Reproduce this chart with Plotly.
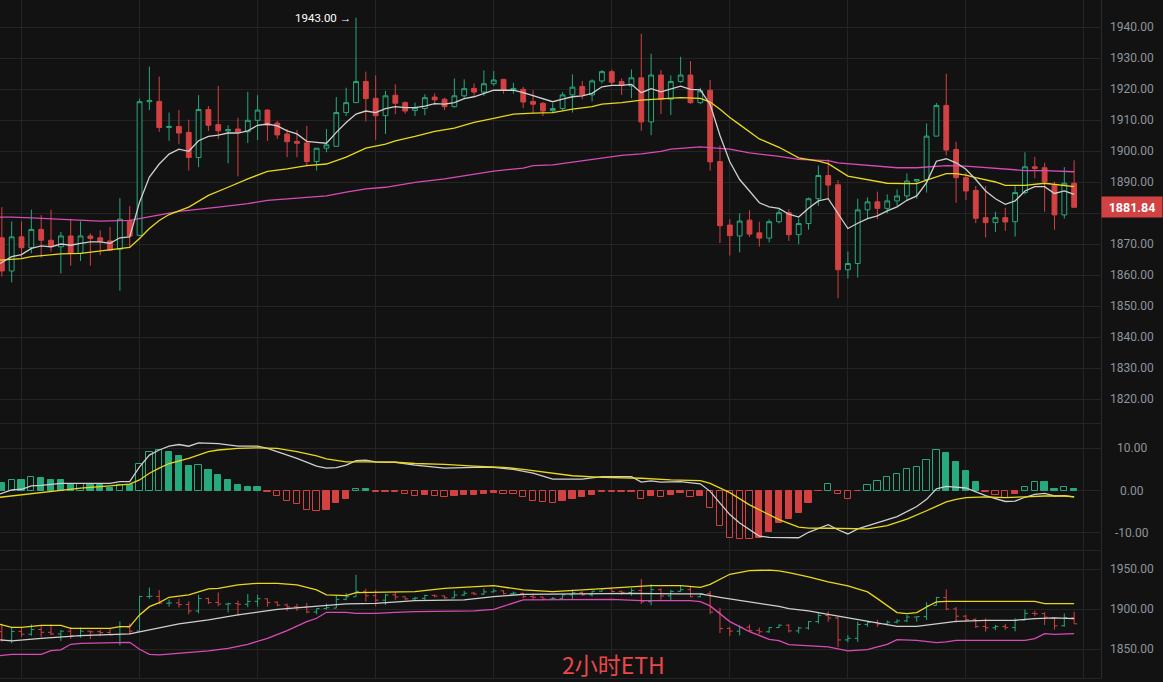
import plotly.graph_objects as go

# ---------------- data ----------------
opens = [1872.0,1861.3,1872.3,1868.8,1874.7,1871.2,1869.1,1872.6,1867.0,1872.6,
         1872.0,1871.0,1868.3,1877.6,1872.8,1915.9,1916.0,1907.6,1907.9,1906.0,
         1897.9,1913.4,1908.5,1906.5,1907.1,1906.2,1909.9,1913.2,1909.0,1905.5,
         1903.1,1902.6,1896.6,1900.9,1901.5,1912.4,1915.6,1922.4,1917.0,1911.4,
         1918.0,1915.6,1913.1,1913.7,1917.4,1916.7,1914.3,1917.8,1920.2,1919.0,
         1921.7,1923.1,1919.6,1919.9,1916.0,1915.4,1913.0,1913.7,1918.1,1920.8,
         1918.1,1922.6,1925.6,1922.4,1921.0,1923.6,1909.4,1924.5,1916.7,1922.4,
         1924.5,1915.6,1919.6,1896.6,1876.1,1872.6,1877.7,1873.6,1871.9,1877.2,
         1880.1,1873.0,1876.6,1884.6,1892.1,1889.1,1861.7,1863.7,1881.0,1883.6,
         1881.5,1883.9,1885.5,1890.3,1890.8,1904.8,1914.7,1900.5,1891.4,1887.3,
         1878.5,1876.9,1878.5,1877.2,1886.6,1894.9,1894.6,1888.9,1879.4,1889.6]
highs = [1881.9,1877.3,1877.3,1881.1,1879.3,1881.1,1873.9,1877.9,1877.3,1873.4,
         1874.4,1875.5,1884.8,1882.2,1916.9,1927.2,1924.0,1912.4,1913.2,1910.1,
         1918.0,1914.5,1921.0,1908.3,1910.7,1919.1,1918.0,1913.5,1909.7,1907.1,
         1906.8,1908.1,1900.9,1907.1,1917.4,1920.4,1943.0,1925.6,1924.4,1919.4,
         1921.5,1916.0,1915.6,1918.3,1918.6,1917.2,1923.4,1923.1,1921.8,1926.0,
         1925.8,1923.3,1922.0,1920.7,1919.6,1915.8,1915.4,1919.0,1924.7,1922.6,
         1923.1,1926.1,1926.3,1923.4,1926.3,1937.8,1931.4,1926.1,1924.4,1930.4,
         1929.0,1920.4,1922.9,1901.8,1878.0,1879.9,1880.9,1877.2,1878.0,1881.2,
         1881.2,1878.2,1885.0,1895.3,1897.3,1890.6,1867.6,1884.6,1885.0,1886.9,
         1886.0,1887.6,1892.8,1890.8,1908.9,1915.5,1924.9,1903.0,1893.0,1888.7,
         1888.7,1880.4,1881.7,1888.7,1899.6,1898.1,1896.2,1890.1,1894.8,1897.0]
lows = [1859.5,1857.6,1865.3,1867.0,1865.6,1867.5,1860.5,1863.0,1864.5,1863.0,
        1866.4,1867.8,1854.9,1868.8,1872.6,1913.2,1906.2,1903.3,1902.2,1893.7,
        1894.8,1906.5,1903.9,1896.0,1891.8,1902.6,1903.5,1903.3,1903.9,1898.0,
        1898.0,1895.0,1893.7,1899.6,1901.5,1911.3,1915.6,1909.5,1903.6,1905.5,
        1911.9,1912.0,1911.3,1911.5,1914.8,1913.2,1914.0,1916.7,1917.8,1917.8,
        1921.0,1918.5,1918.5,1913.8,1912.1,1911.3,1912.2,1912.9,1912.4,1916.7,
        1916.0,1921.8,1921.0,1918.1,1917.0,1906.5,1905.1,1911.9,1911.6,1922.0,
        1915.1,1915.1,1893.7,1870.3,1866.3,1867.3,1872.3,1869.2,1870.5,1876.6,
        1871.0,1869.9,1874.6,1882.3,1884.4,1852.5,1858.9,1859.2,1878.2,1878.0,
        1879.9,1882.3,1883.9,1884.6,1886.6,1904.8,1898.6,1883.3,1884.2,1876.7,
        1872.1,1873.9,1874.2,1872.4,1886.0,1891.2,1880.4,1874.6,1878.2,1881.84]
closes = [1861.3,1872.3,1868.8,1874.7,1871.2,1869.1,1872.6,1867.0,1872.6,1871.8,
          1870.9,1868.0,1878.0,1872.6,1915.9,1916.3,1907.6,1907.9,1905.8,1897.9,
          1913.4,1908.3,1906.5,1906.9,1906.2,1909.9,1913.2,1908.3,1905.2,1903.0,
          1902.5,1896.6,1900.9,1902.0,1912.4,1915.6,1922.4,1916.9,1911.4,1917.8,
          1915.4,1912.9,1914.0,1917.2,1916.5,1914.3,1917.8,1920.1,1919.0,1921.7,
          1922.9,1919.6,1920.2,1915.8,1915.1,1912.9,1913.7,1918.1,1920.6,1918.1,
          1922.6,1925.6,1922.2,1921.2,1923.6,1909.4,1924.5,1916.7,1922.4,1924.5,
          1915.6,1919.4,1896.5,1875.9,1872.7,1877.4,1873.2,1871.9,1877.2,1880.1,
          1873.0,1876.6,1884.6,1892.1,1889.0,1861.7,1863.7,1881.0,1883.6,1881.5,
          1883.9,1885.5,1890.3,1890.8,1904.8,1914.7,1900.3,1891.4,1887.1,1878.3,
          1876.9,1878.5,1877.1,1886.6,1894.9,1894.4,1890.1,1879.4,1889.6,1881.84]

# main-panel moving averages (bar index, value)
ma_white_x = [-0.19,1,2,3,4,5,6,7,8,9,10,11,12,13,14,15,16,17,18,19,20,21,22,23,24,25,26,27,28,29,
              30,31,32,33,34,35,36,37,38,39,40,41,42,43,44,45,46,47,48,49,50,51,52,53,54,55,56,57,58,59,
              60,61,62,63,64,65,66,67,68,69,70,71,72,73,74,75,76,77,78,79,80,81,82,83,84,85,86,87,88,89,
              90,91,92,93,94,95,96,97,98,99,100,101,102,103,104,105,106,107,108,109]
ma_white_y = [1863.7,1865.9,1866.6,1868.6,1869.4,1869.1,1870.0,1869.6,1870.2,1870.7,1870.7,1870.2,1872.0,1872.3,
              1883.5,1891.6,1895.8,1899.0,1900.6,1899.9,1903.3,1904.7,1905.1,1905.8,1905.8,1906.5,1908.3,1908.7,
              1908.1,1906.5,1905.5,1903.1,1902.8,1902.5,1906.0,1909.2,1911.9,1912.9,1912.4,1913.7,1914.3,1914.0,
              1914.0,1914.5,1915.3,1915.1,1915.6,1916.9,1917.5,1918.6,1919.6,1919.6,1919.6,1918.8,1917.8,1916.7,
              1915.9,1916.7,1917.5,1917.8,1918.6,1920.7,1921.2,1921.2,1921.5,1918.8,1920.1,1919.1,1919.9,1920.9,
              1919.9,1919.7,1915.0,1905.0,1896.5,1890.8,1887.1,1883.3,1882.0,1881.5,1879.6,1878.7,1881.5,1883.9,
              1884.6,1879.6,1875.0,1876.7,1878.2,1879.1,1880.7,1882.0,1884.1,1885.5,1889.8,1896.7,1897.5,1896.2,
              1894.1,1890.8,1887.1,1884.6,1882.8,1883.9,1887.1,1888.5,1888.5,1886.3,1887.1,1886.0]
ma_yellow_x = [-0.19,2,3,4,6,8,11,13,14,15,16,17,19,21,23,25,27,29,31,33,35,37,39,40,42,44,46,48,50,52,
               54,56,58,60,61,63,65,67,69,71,72,73,74,75,77,79,81,83,84,86,88,90,92,93,94,96,97,98,99,101,
               102,104,106,107,108,109]
ma_yellow_y = [1864.8,1865.3,1865.9,1866.2,1866.8,1867.0,1868.0,1868.9,1871.8,1875.0,1877.6,1879.5,1881.9,1885.7,
               1888.3,1891.0,1893.4,1894.2,1895.3,1895.8,1898.0,1900.9,1902.2,1903.3,1904.7,1906.3,1907.4,1909.2,
               1910.5,1911.9,1912.2,1912.4,1913.5,1914.3,1915.1,1915.6,1916.4,1916.7,1917.2,1917.0,1915.8,1913.5,
               1910.8,1908.5,1903.9,1901.2,1897.8,1896.7,1895.9,1891.9,1890.8,1889.6,1889.5,1889.5,1890.6,1892.7,
               1892.7,1892.2,1891.4,1890.0,1888.9,1888.9,1889.6,1889.2,1888.7,1888.5]
ma_pink_x = [-0.19,1,3,7,10,13,14,16,18,22,25,27,31,33,35,37,39,42,45,48,50,53,54,56,58,60,61,63,65,67,
             68,71,72,74,76,79,81,84,85,88,91,93,96,98,100,102,104,106,109]
ma_pink_y = [1878.7,1878.7,1878.4,1877.9,1877.4,1877.6,1878.2,1879.3,1880.5,1881.9,1883.0,1884.1,1885.1,1885.5,
             1886.7,1887.8,1888.3,1889.9,1891.0,1892.6,1893.5,1894.5,1895.3,1895.5,1896.4,1897.2,1897.8,1898.6,
             1899.1,1899.9,1900.6,1901.3,1901.1,1900.6,1899.4,1898.3,1897.3,1896.9,1896.2,1895.3,1894.6,1894.6,
             1895.3,1895.1,1894.6,1894.1,1893.7,1893.7,1893.3]

# MACD
macd_hist = [1.88,2.5,2.45,3.1,2.9,2.5,2.45,1.5,1.6,1.55,1.3,0.7,1.3,1.2,6.4,9.2,9.6,9.1,8.2,5.8,
             6.0,4.9,3.7,2.5,1.3,0.9,0.85,-0.25,-1.4,-2.6,-3.2,-4.7,-4.75,-4.7,-3.0,-2.0,0.3,0.28,-0.3,-0.25,
             -0.25,-0.8,-1.4,-1.15,-1.2,-1.6,-1.4,-1.0,-0.95,-0.8,-0.5,-0.8,-0.85,-1.6,-2.4,-2.8,-3.0,-2.6,-2.0,-1.6,
             -1.0,-0.25,-0.25,-0.45,-0.25,-2.0,-1.2,-1.6,-1.0,-0.5,-1.45,-1.3,-4.2,-8.3,-11.2,-11.4,-11.6,-11.2,-9.8,-7.7,
             -6.7,-5.4,-2.9,-0.2,1.5,-0.9,-1.9,-0.2,1.3,2.3,3.2,3.9,5.1,5.5,7.3,9.7,8.8,6.7,4.7,2.0,
             -0.25,-1.0,-1.8,-0.8,0.9,2.1,1.9,0.4,0.9,0.4]
dif_x = [-0.19,1,2,3,4,6,8,11,12,13,14,15,16,17,18,19,20,22,24,26,27,28,30,32,33,34,35,36,37,38,
         40,42,45,48,50,52,54,56,59,61,64,65,66,67,69,71,72,73,74,75,76,77,78,79,80,81,82,84,85,86,
         87,89,91,93,94,95,96,98,100,102,103,104,105,106,107,108,109]
dif_y = [-0.8,0.15,0.3,1.1,1.2,1.7,1.7,1.7,2.1,2.1,5.6,8.4,9.6,10.5,10.9,10.5,11.3,11.1,10.5,10.5,
         10.0,9.2,7.6,5.8,5.3,5.4,6.0,7.1,7.2,6.8,6.7,6.0,5.3,5.5,5.5,5.0,4.1,2.7,2.7,3.3,
         3.3,2.0,2.3,2.0,2.1,1.6,-0.2,-3.0,-5.7,-7.7,-9.3,-10.8,-11.1,-11.1,-11.2,-11.2,-9.9,-8.1,-9.3,-10.3,
         -9.1,-7.7,-6.2,-3.8,-2.1,0.4,1.0,0.6,-1.2,-2.6,-2.5,-1.6,-0.9,-0.7,-1.3,-1.2,-1.5]
dea_x = [-0.19,2,4,6,8,11,13,14,15,16,17,19,21,22,24,26,28,30,32,33,35,37,40,42,45,48,51,53,56,58,
         61,65,68,71,72,74,76,78,79,81,82,84,86,88,90,92,94,96,97,98,100,102,104,106,108,109]
dea_y = [-1.6,-1.0,-0.4,0.15,0.55,1.1,1.5,2.5,4.1,5.3,6.4,7.6,9.2,9.6,10.0,10.1,10.0,9.2,8.2,7.5,
         6.8,6.8,6.7,6.4,6.2,5.8,5.5,5.0,4.2,3.5,3.1,2.9,2.5,2.35,1.7,-0.5,-3.4,-5.7,-6.9,-8.7,
         -8.9,-8.95,-9.1,-9.1,-8.3,-6.8,-4.8,-2.7,-2.1,-1.7,-1.5,-1.7,-1.5,-1.3,-1.3,-1.5]

# Bollinger bands
boll_up_x = [-0.19,1,2,4,6,7,9,11,12,13,14,15,16,17,19,20,21,22,24,26,28,30,32,33,35,36,38,40,42,45,
             49,50,53,56,59,64,66,69,71,72,74,76,77,78,79,80,82,84,86,88,89,91,92,93,94,95,96,100,105,106,109]
boll_up_y = [1881.25,1877.5,1877.5,1880.0,1880.0,1876.25,1876.25,1876.25,1878.3,1878.3,1893.0,1903.3,1908.3,
             1915.0,1918.0,1922.0,1925.4,1926.25,1930.4,1932.5,1932.5,1930.4,1924.2,1918.0,1917.0,1920.8,
             1921.25,1922.0,1922.0,1926.25,1929.2,1929.6,1924.2,1922.0,1924.2,1927.5,1929.6,1929.6,1927.5,
             1931.25,1943.75,1948.3,1949.0,1949.0,1948.0,1945.8,1940.4,1934.2,1929.2,1921.7,1913.3,1895.8,
             1894.6,1895.8,1902.9,1909.2,1910.0,1910.0,1910.0,1907.1,1907.1]
boll_mid_x = [-0.19,1,4,8,13,15,18,21,24,28,32,35,38,40,42,47,50,53,59,62,64,69,71,73,76,78,79,80,82,84,
              86,88,91,93,95,97,100,103,105,107,109]
boll_mid_y = [1861.7,1860.4,1863.75,1867.0,1869.2,1874.2,1881.7,1886.7,1893.0,1900.0,1903.3,1906.7,1907.5,
              1908.75,1910.8,1911.7,1915.8,1918.75,1919.2,1920.0,1920.0,1919.2,1919.2,1915.0,1909.6,1906.0,
              1903.5,1900.8,1897.9,1893.75,1889.6,1885.0,1878.75,1878.75,1882.1,1885.0,1886.25,1886.25,
              1888.3,1889.2,1888.3]
boll_low_x = [-0.19,1,4,5,6,7,8,13,14,15,16,18,21,23,25,27,29,31,32,33,35,36,38,40,42,48,50,53,56,62,
              65,70,71,72,74,76,78,79,80,84,86,88,89,90,91,93,95,96,97,100,104,105,106,107,109]
boll_low_y = [1842.1,1843.75,1843.75,1848.3,1849.2,1856.25,1857.5,1858.75,1850.0,1843.75,1842.9,1845.0,
              1847.9,1851.25,1856.25,1863.75,1873.3,1884.6,1888.75,1896.25,1896.25,1895.0,1895.0,1896.25,
              1897.1,1897.9,1900.0,1911.7,1911.7,1912.5,1910.8,1910.8,1909.6,1904.2,1884.6,1872.1,1862.5,
              1860.8,1855.8,1852.9,1847.9,1849.6,1852.9,1856.25,1862.1,1861.25,1858.3,1859.2,1861.25,
              1861.25,1861.25,1863.3,1869.6,1868.75,1869.6]

main_ticks = [1820, 1830, 1840, 1850, 1860, 1870, 1880, 1890, 1900, 1910, 1920, 1930, 1940]
macd_ticks = [-10, 0, 10]
boll_ticks = [1850, 1900, 1950]
high_label = "1943.00 →"
high_index = 36
last_price = closes[-1]
title_text = "2小时ETH"

# ---------------- styling ----------------
BG = "#121212"
GRID = "#242424"
GREEN = "#26a97c"
RED = "#d24243"
WHITE_LINE = "#cfcfcf"
YELLOW = "#e9d81c"
PINK = "#d84bb6"
LABEL = "#8f949c"
W, H = 1163, 682
AX_RIGHT = 1101 / W
LW = 1.3
idx = list(range(len(closes)))

fig = go.Figure()

fig.add_trace(go.Candlestick(
    x=idx, open=opens, high=highs, low=lows, close=closes,
    increasing=dict(line=dict(color=GREEN, width=1), fillcolor=BG),
    decreasing=dict(line=dict(color=RED, width=1), fillcolor=RED),
    whiskerwidth=0, xaxis="x", yaxis="y", hoverinfo="skip", showlegend=False))
for xs, ys, c in [(ma_pink_x, ma_pink_y, PINK), (ma_yellow_x, ma_yellow_y, YELLOW),
                  (ma_white_x, ma_white_y, WHITE_LINE)]:
    fig.add_trace(go.Scatter(x=xs, y=ys, mode="lines", line=dict(color=c, width=LW),
                             xaxis="x", yaxis="y", hoverinfo="skip", showlegend=False))

# MACD histogram: hollow when magnitude grows
fills, outlines = [], []
for i, h in enumerate(macd_hist):
    col = GREEN if h >= 0 else RED
    prev = macd_hist[i - 1] if i > 0 else None
    hollow = prev is not None and ((h >= 0 and h >= prev) or (h < 0 and h <= prev))
    fills.append(BG if hollow else col)
    outlines.append(col)
fig.add_trace(go.Bar(x=idx, y=macd_hist, width=0.64,
                     marker=dict(color=fills, line=dict(color=outlines, width=1)),
                     xaxis="x2", yaxis="y2", hoverinfo="skip", showlegend=False))
fig.add_trace(go.Scatter(x=dif_x, y=dif_y, mode="lines", line=dict(color=WHITE_LINE, width=LW),
                         xaxis="x2", yaxis="y2", hoverinfo="skip", showlegend=False))
fig.add_trace(go.Scatter(x=dea_x, y=dea_y, mode="lines", line=dict(color=YELLOW, width=LW),
                         xaxis="x2", yaxis="y2", hoverinfo="skip", showlegend=False))

# Bollinger panel
fig.add_trace(go.Ohlc(x=idx, open=opens, high=highs, low=lows, close=closes,
                      increasing=dict(line=dict(color=GREEN, width=1)),
                      decreasing=dict(line=dict(color=RED, width=1)),
                      tickwidth=0.3, xaxis="x3", yaxis="y3", hoverinfo="skip", showlegend=False))
for xs, ys, c in [(boll_up_x, boll_up_y, YELLOW), (boll_mid_x, boll_mid_y, WHITE_LINE),
                  (boll_low_x, boll_low_y, PINK)]:
    fig.add_trace(go.Scatter(x=xs, y=ys, mode="lines", line=dict(color=c, width=LW),
                             xaxis="x3", yaxis="y3", hoverinfo="skip", showlegend=False))

xcommon = dict(domain=[0, AX_RIGHT], range=[-0.186, 111.73], showticklabels=False,
               showgrid=True, gridcolor=GRID, gridwidth=1, tick0=2, dtick=12, zeroline=False,
               showline=True, linecolor=GRID, linewidth=1, ticks="", fixedrange=True)
ycommon = dict(side="right", showticklabels=False, showgrid=True, gridcolor=GRID, gridwidth=1,
               zeroline=False, showline=True, linecolor="#2a2a2a", linewidth=1, ticks="")

d_main = [1 - 423 / H, 1]
d_macd = [1 - 550 / H, 1 - 423 / H]
d_boll = [4 / H, 1 - 550 / H]

fig.update_layout(
    width=W, height=H, margin=dict(l=0, r=0, t=0, b=0),
    paper_bgcolor=BG, plot_bgcolor=BG, showlegend=False, bargap=0,
    xaxis=dict(**xcommon, anchor="y", rangeslider=dict(visible=False)),
    xaxis2=dict(**xcommon, anchor="y2", matches="x"),
    xaxis3=dict(**xcommon, anchor="y3", matches="x", rangeslider=dict(visible=False)),
    yaxis=dict(**ycommon, domain=d_main, range=[1812.26, 1948.71], tickvals=main_ticks, anchor="x"),
    yaxis2=dict(**ycommon, domain=d_macd, range=[-14.1, 16.0], tickvals=macd_ticks, anchor="x2"),
    yaxis3=dict(**ycommon, domain=d_boll, range=[1814.1, 1974.1], tickvals=boll_ticks, anchor="x3"),
    font=dict(family="Roboto", color=LABEL, size=12),
)

ann = []
LX = 1131.5 / W
for v in main_ticks:
    if abs(v - last_price) < 4:
        continue  # hidden under the last-price tag
    ann.append(dict(x=LX, xref="paper", y=v, yref="y", text=f"{v:.2f}", showarrow=False,
                    xanchor="center", yanchor="middle", font=dict(size=12, color=LABEL)))
for v in macd_ticks:
    ann.append(dict(x=LX, xref="paper", y=v, yref="y2", text=f"{v:.2f}", showarrow=False,
                    xanchor="center", yanchor="middle", font=dict(size=12, color=LABEL)))
for v in boll_ticks:
    ann.append(dict(x=LX, xref="paper", y=v, yref="y3", text=f"{v:.2f}", showarrow=False,
                    xanchor="center", yanchor="middle", font=dict(size=12, color=LABEL)))
ann.append(dict(x=high_index, xref="x", y=highs[high_index], yref="y", text=high_label,
                showarrow=False, xanchor="right", yanchor="middle", xshift=-3,
                font=dict(size=11.5, color="#ffffff", family="Roboto")))
ann.append(dict(x=1.0, xref="paper", y=last_price, yref="y", text=f"<b>{last_price:.2f}</b>",
                showarrow=False, xanchor="right", yanchor="middle", bgcolor=RED,
                width=56, height=16, borderpad=2, align="center",
                font=dict(size=12.5, color="#ffffff", family="Roboto")))
ann.append(dict(x=613 / W, xref="paper", y=18 / H, yref="paper", text=title_text,
                showarrow=False, xanchor="center", yanchor="middle",
                font=dict(size=23, color="#e84848", family="Noto Sans CJK SC")))
fig.update_layout(annotations=ann)

fig.add_shape(type="line", xref="paper", yref="y", x0=AX_RIGHT + 1 / W, x1=AX_RIGHT + 5 / W,
              y0=last_price, y1=last_price, line=dict(color="#ffffff", width=1))

fig.write_html("out.html", config={"displayModeBar": False},
               post_script="document.body.style.margin='0';document.body.style.overflow='hidden';"
                           "document.body.style.background='" + BG + "';")
